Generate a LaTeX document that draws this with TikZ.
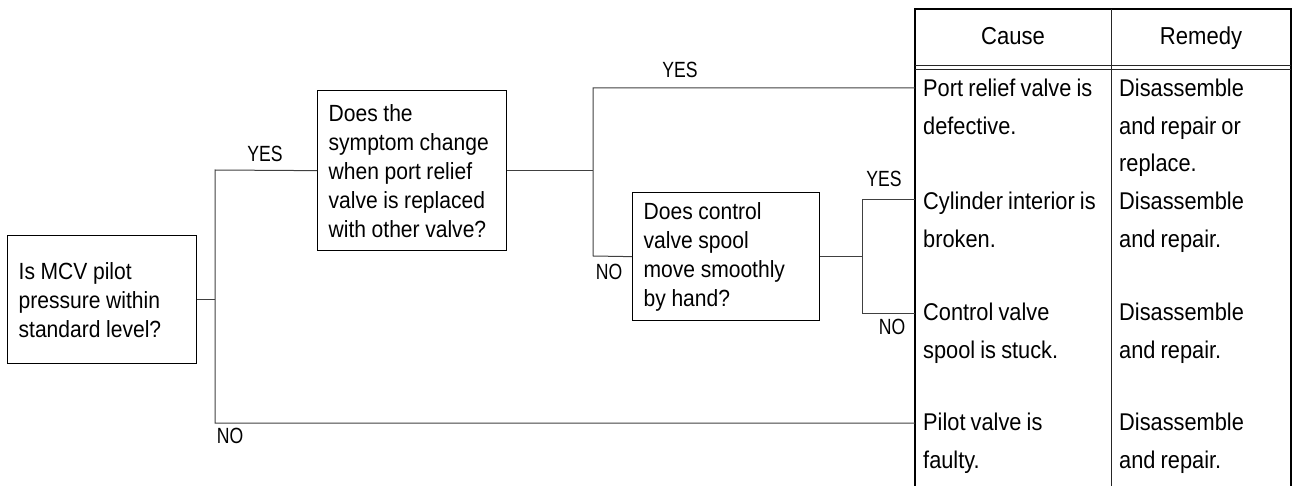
\documentclass[tikz,border=0pt]{standalone}
\usepackage{fontspec}
\setmainfont{Liberation Sans}[FakeStretch=0.9,WordSpace=0.85]
\newfontfamily\lblfont[FakeStretch=0.8]{Liberation Sans}
\begin{document}
\begin{tikzpicture}[x=1pt,y=-1pt,
  conn/.style={draw=black!75, line width=1pt},
  qbox/.style={draw=black, line width=1.3pt, anchor=north west, align=left,
    inner xsep=11pt, inner ysep=0pt, font=\fontsize{23.4}{29}\selectfont,
    execute at begin node={\spaceskip=0.24em\relax}},
  lbl/.style={font=\lblfont\fontsize{22}{22}\selectfont, inner sep=0pt},
  cell/.style={anchor=north west, align=left, inner sep=0pt,
    font=\fontsize{24.2}{37.5}\selectfont},
  hdr/.style={anchor=base, inner sep=0pt, font=\fontsize{24.5}{26}\selectfont},
  frameline/.style={draw=black, line width=2pt},
  thinline/.style={draw=black!85, line width=0.9pt}]
\useasboundingbox (0,0) rectangle (1306,486);

% question boxes
\node[qbox, text width=167pt, minimum height=128pt] (b1) at (7,235)
  {Is MCV pilot\\pressure within\\standard level?};
\node[qbox, text width=167pt, minimum height=160pt] (b2) at (317,90)
  {Does the\\symptom change\\when port relief\\valve is replaced\\with other valve?};
\node[qbox, text width=165pt, minimum height=128pt] (b3) at (632,192)
  {Does control\\valve spool\\move smoothly\\by hand?};

% table
\coordinate (tabL) at (915,9);
\draw[frameline] (915,486) -- (tabL) -- (1291,9) -- (1291,486);
\draw[thinline] (1111,9) -- (1111,486);
\draw[thinline] (915,65.5) -- (1291,65.5);
\draw[thinline] (915,69) -- (1291,69);
\node[hdr] (hcause) at (1013,45) {Cause};
\node[hdr] (hrem) at (1201,45) {Remedy};

\node[cell] (c1) at (923,70.25) {\strut Port relief valve is\\defective.};
\node[cell] (r1) at (1119,70.25) {\strut Disassemble\\and repair or\\replace.};
\node[cell] (c2) at (923,183.25) {\strut Cylinder interior is\\broken.};
\node[cell] (r2) at (1119,183.25) {\strut Disassemble\\and repair.};
\node[cell] (c3) at (923,294.25) {\strut Control valve\\spool is stuck.};
\node[cell] (r3) at (1119,294.25) {\strut Disassemble\\and repair.};
\node[cell] (c4) at (923,404.25) {\strut Pilot valve is\\faulty.};
\node[cell] (r4) at (1119,404.25) {\strut Disassemble\\and repair.};

% junctions
\coordinate (j1t) at (215,170);
\coordinate (j1b) at (215,423);
\coordinate (j2t) at (593,88);
\coordinate (j2b) at (593,256);
\coordinate (j3t) at (862,200);
\coordinate (j3b) at (862,313);

% connectors
\draw[conn] (b1.east) -- (b1.east -| j1t);
\draw[conn] (b2.west) -- (j1t) -- (j1b) -- (j1b -| tabL);
\draw[conn] (b2.east) -- (b2.east -| j2t);
\draw[conn] (j2t -| tabL) -- (j2t) -- (j2b) -- (b3.west);
\draw[conn] (b3.east) -- (b3.east -| j3t);
\draw[conn] (j3t -| tabL) -- (j3t) -- (j3b) -- (j3b -| tabL);

% labels
\node[lbl] (y1) at (265,153.5) {YES};
\node[lbl] (n1) at (230,436) {NO};
\node[lbl] (y2) at (680,70) {YES};
\node[lbl] (n2) at (609,271.5) {NO};
\node[lbl] (y3) at (884,178.5) {YES};
\node[lbl] (n3) at (892,326.5) {NO};
\end{tikzpicture}
\end{document}
